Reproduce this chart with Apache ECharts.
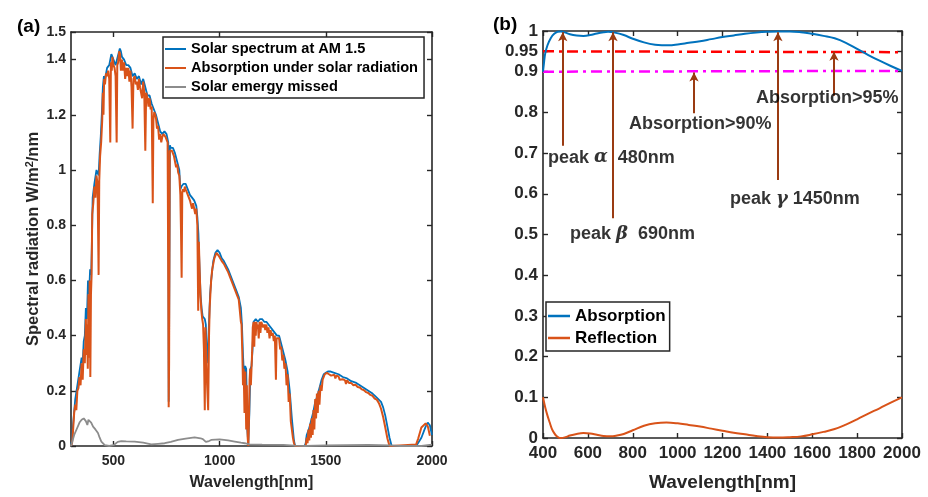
<!DOCTYPE html>
<html>
<head>
<meta charset="utf-8">
<script src="https://cdn.jsdelivr.net/npm/echarts@6/dist/echarts.min.js"></script>
<style>
html,body{margin:0;padding:0;background:#fff;}
#main{width:928px;height:497px;}
</style>
</head>
<body>
<div id="main"></div>
<script>
// ---------- Panel (a) data ----------
const solarWl = [300,305,310,320,330,340,350,355,360,365,370,375,380,385,390,395,398,402,410,420,430,435,440,445,450,455,460,470,480,490,500,510,520,530,535,540,550,560,570,580,590,600,610,620,630,640,650,660,670,680,690,700,710,720,730,740,750,758,760,762,766,770,780,790,800,810,815,820,830,840,850,860,870,880,890,895,900,905,910,915,920,930,935,940,945,950,955,960,970,980,990,1000,1010,1020,1040,1060,1080,1090,1100,1105,1110,1115,1120,1125,1130,1135,1140,1145,1150,1155,1160,1170,1180,1190,1200,1210,1220,1230,1240,1250,1260,1270,1280,1290,1300,1310,1320,1330,1340,1350,1355,1400,1405,1410,1420,1430,1440,1450,1460,1470,1480,1490,1500,1510,1520,1540,1560,1580,1600,1620,1640,1660,1680,1700,1720,1740,1760,1770,1780,1790,1800,1810,1920,1930,1950,1970,1980,1990,2000];
const solarVal = [0.0,0.02,0.08,0.17,0.22,0.27,0.32,0.30,0.38,0.40,0.50,0.46,0.60,0.55,0.64,0.62,0.72,0.90,0.95,1.00,0.98,1.06,1.12,1.20,1.30,1.34,1.33,1.37,1.38,1.42,1.40,1.38,1.41,1.44,1.43,1.41,1.40,1.38,1.38,1.37,1.34,1.35,1.33,1.34,1.31,1.33,1.30,1.27,1.27,1.24,1.22,1.20,1.17,1.14,1.13,1.14,1.13,1.10,0.16,0.40,1.09,1.08,1.08,1.06,1.03,1.00,0.93,0.94,0.95,0.95,0.93,0.91,0.90,0.89,0.87,0.83,0.77,0.65,0.55,0.50,0.47,0.46,0.44,0.30,0.35,0.45,0.55,0.60,0.67,0.70,0.71,0.70,0.68,0.67,0.64,0.60,0.56,0.54,0.50,0.44,0.33,0.25,0.29,0.28,0.06,0.01,0.12,0.28,0.29,0.35,0.45,0.46,0.45,0.46,0.46,0.45,0.45,0.44,0.43,0.42,0.41,0.40,0.40,0.37,0.34,0.31,0.27,0.20,0.10,0.02,0.0,0.0,0.01,0.04,0.06,0.09,0.12,0.16,0.18,0.21,0.24,0.26,0.265,0.27,0.27,0.265,0.26,0.25,0.245,0.235,0.23,0.22,0.21,0.20,0.19,0.175,0.16,0.14,0.11,0.07,0.03,0.0,0.0,0.005,0.03,0.07,0.085,0.075,0.04];

const absorbedWl = [300,305,310,315,320,325,330,335,340,345,350,355,360,365,370,373,376,379,382,385,388,391,394,397,400,405,410,415,420,425,430,433,437,442,447,450,453,456,460,465,470,475,480,485,488,492,495,500,505,510,515,518,522,527,531,535,540,545,550,555,560,565,570,575,580,585,590,594,600,605,610,615,620,625,630,635,640,645,650,654,660,665,670,675,680,685,688,692,700,705,710,715,720,725,730,735,740,745,750,755,758,760,762,765,770,775,780,785,790,795,800,805,810,815,818,821,824,828,832,836,840,845,850,855,860,865,870,875,880,885,890,895,899,902,906,910,914,918,922,926,930,933,937,941,946,950,953,957,960,965,970,975,980,985,990,995,1000,1010,1020,1030,1040,1050,1060,1070,1080,1090,1095,1100,1103,1107,1110,1113,1117,1121,1125,1128,1132,1135,1138,1141,1144,1147,1150,1153,1156,1160,1163,1166,1170,1173,1177,1180,1184,1188,1192,1196,1200,1205,1210,1215,1220,1225,1230,1235,1240,1245,1250,1255,1260,1265,1268,1275,1280,1285,1290,1295,1300,1305,1310,1315,1320,1325,1330,1335,1340,1345,1350,1355,1405,1410,1414,1418,1422,1426,1430,1434,1438,1442,1446,1450,1454,1458,1462,1466,1470,1475,1480,1485,1490,1495,1500,1505,1510,1515,1520,1525,1530,1540,1545,1550,1560,1565,1570,1580,1590,1595,1600,1610,1620,1630,1640,1650,1660,1670,1680,1690,1700,1710,1720,1730,1740,1750,1760,1770,1780,1790,1800,1810,1925,1935,1950,1970,1980,1990,2000];
const absorbedVal = [0.0,0.01,0.06,0.12,0.15,0.13,0.20,0.21,0.25,0.22,0.30,0.24,0.35,0.30,0.46,0.33,0.44,0.28,0.55,0.32,0.60,0.25,0.55,0.62,0.84,0.88,0.94,0.90,0.98,0.95,0.62,0.96,1.05,1.10,1.18,1.28,1.20,1.33,1.31,1.35,1.34,1.36,1.33,1.10,1.39,1.36,1.41,1.38,1.37,1.34,1.10,1.38,1.39,1.43,1.42,1.36,1.40,1.36,1.39,1.33,1.37,1.34,1.37,1.32,1.36,1.30,1.15,1.33,1.34,1.31,1.32,1.29,1.33,1.30,1.30,1.26,1.32,1.28,1.07,1.28,1.26,1.23,1.26,1.22,1.23,0.88,1.18,1.21,1.19,1.15,1.16,1.11,1.13,1.10,1.12,1.13,1.13,1.12,1.12,1.10,0.60,0.14,0.30,1.07,1.07,1.07,1.07,1.05,1.05,1.01,1.02,0.99,0.98,0.91,0.78,0.61,0.92,0.93,0.92,0.94,0.93,0.93,0.91,0.91,0.89,0.89,0.86,0.88,0.88,0.84,0.86,0.80,0.49,0.74,0.63,0.54,0.49,0.46,0.44,0.35,0.13,0.43,0.43,0.22,0.13,0.40,0.50,0.56,0.60,0.64,0.66,0.68,0.69,0.70,0.70,0.69,0.69,0.67,0.66,0.645,0.63,0.61,0.59,0.57,0.55,0.53,0.49,0.45,0.44,0.33,0.22,0.28,0.12,0.27,0.06,0.22,0.03,0.0,0.09,0.24,0.28,0.22,0.28,0.34,0.43,0.45,0.36,0.45,0.40,0.45,0.43,0.44,0.39,0.45,0.41,0.45,0.45,0.43,0.44,0.42,0.44,0.41,0.43,0.39,0.42,0.40,0.41,0.38,0.40,0.24,0.39,0.39,0.39,0.35,0.36,0.31,0.33,0.28,0.30,0.22,0.26,0.16,0.19,0.09,0.09,0.03,0.01,0.0,0.0,0.03,0.01,0.06,0.02,0.08,0.03,0.10,0.04,0.13,0.06,0.17,0.10,0.19,0.12,0.20,0.15,0.22,0.20,0.24,0.25,0.26,0.26,0.265,0.265,0.26,0.265,0.255,0.26,0.258,0.245,0.255,0.252,0.24,0.245,0.242,0.238,0.225,0.238,0.228,0.228,0.22,0.222,0.214,0.212,0.205,0.202,0.195,0.192,0.185,0.182,0.172,0.168,0.155,0.135,0.105,0.067,0.027,0.0,0.0,0.005,0.027,0.067,0.082,0.072,0.037];

const missedWl = [300,315,325,340,350,360,364,370,377,382,388,395,404,415,427,435,443,459,480,500,506,520,537,560,600,640,678,710,741,770,804,840,882,910,921,935,942,950,960,1000,1040,1071,1100,1118,1140,1200,1300,1350,1400,1500,1600,1700,1800,1850,1950,2000];
const missedVal = [0,0.04,0.058,0.085,0.095,0.10,0.105,0.09,0.076,0.095,0.097,0.085,0.07,0.06,0.047,0.03,0.016,0.003,0.0,0.003,0.01,0.015,0.018,0.017,0.016,0.012,0.006,0.008,0.01,0.015,0.022,0.027,0.031,0.028,0.025,0.015,0.01,0.018,0.022,0.024,0.02,0.016,0.012,0.01,0.006,0.005,0.004,0.001,0,0.002,0.003,0.004,0.002,0,0,0.005];

const leftXTicks = [500,1000,1500,2000];
const leftYTicks = [0,0.2,0.4,0.6,0.8,1,1.2,1.4,1.5];

// ---------- Panel (b) data ----------
const absWl = [400,405,410,420,435,450,465,480,500,520,550,580,610,640,670,690,720,760,800,850,900,930,960,1000,1050,1100,1150,1200,1250,1300,1350,1400,1450,1500,1550,1600,1650,1700,1750,1800,1850,1900,1950,2000];
const absVal = [0.9,0.925,0.945,0.965,0.983,0.993,0.998,0.999,0.996,0.992,0.989,0.988,0.99,0.994,0.997,0.998,0.996,0.99,0.981,0.972,0.966,0.965,0.965,0.967,0.971,0.975,0.98,0.985,0.989,0.993,0.996,0.998,0.999,0.999,0.997,0.993,0.988,0.982,0.971,0.956,0.941,0.927,0.914,0.902];
const reflWl = [400,410,420,430,440,450,460,470,480,500,520,550,580,610,640,670,700,730,760,800,850,900,950,1000,1050,1100,1150,1200,1250,1300,1350,1400,1450,1500,1550,1600,1650,1700,1750,1800,1850,1900,1950,2000];
const reflVal = [0.1,0.075,0.055,0.038,0.022,0.012,0.005,0.001,0.0,0.002,0.006,0.01,0.012,0.011,0.008,0.005,0.004,0.006,0.01,0.019,0.03,0.036,0.038,0.036,0.032,0.028,0.023,0.018,0.013,0.009,0.005,0.002,0.001,0.002,0.004,0.009,0.015,0.022,0.033,0.046,0.06,0.073,0.087,0.1];
const line95 = [[400,0.95],[2000,0.948]];
const line90 = [[400,0.9],[2000,0.902]];
const rightYTicks = [0,0.1,0.2,0.3,0.4,0.5,0.6,0.7,0.8,0.9,0.95,1];

const zip = (a,b) => a.map((w,i) => [w, b[i]]);

const FONT = "'Liberation Sans', Arial, sans-serif";
const AX = '#262626';
const BLUE = '#0072BD', ORANGE = '#D95319', GRAY = '#8c8c8c', BROWN = '#9a3b12';
const plain = v => String(v);

function boxAxis(extra){
  return Object.assign({
    type:'value',
    axisLine:{show:true,onZero:false,lineStyle:{color:AX,width:1.6}},
    splitLine:{show:false},
    axisTick:{show:true,inside:true,length:5,lineStyle:{color:AX,width:1.4}},
  }, extra);
}

const chart = echarts.init(document.getElementById('main'), null, {renderer:'canvas'});

const leftLbl = {show:true,color:AX,fontWeight:'bold',fontSize:14,fontFamily:FONT,formatter:plain};
const rightLbl = {show:true,color:AX,fontWeight:'bold',fontSize:17,fontFamily:FONT,formatter:plain};

const greek = {g:{fontFamily:"'DejaVu Serif', serif",fontStyle:'italic',fontSize:18,color:'#000'}};
function annot(x,y,text){
  return {value:[x,y],label:{show:true,position:'right',distance:0,formatter:text,rich:greek,
    color:'#000',fontWeight:'bold',fontSize:18,fontFamily:FONT}};
}

const option = {
  animation:false,
  backgroundColor:'#fff',
  textStyle:{fontFamily:FONT},
  title:[
    {text:'(a)',left:12,top:12,textStyle:{fontSize:19,fontWeight:'bold',color:'#000',fontFamily:FONT}},
    {text:'(b)',left:488,top:10,textStyle:{fontSize:19,fontWeight:'bold',color:'#000',fontFamily:FONT}}
  ],
  grid:[
    {left:71,top:32,width:361,height:414},
    {left:543,top:31,width:359,height:415}
  ],
  xAxis:[
    boxAxis({gridIndex:0,position:'bottom',min:300,max:2000,
      axisLabel:Object.assign({},leftLbl,{customValues:leftXTicks,margin:8}),
      axisTick:{show:true,inside:true,length:5,customValues:leftXTicks,lineStyle:{color:AX,width:1.4}},
      name:'Wavelength[nm]',nameLocation:'middle',nameGap:29,
      nameTextStyle:{fontSize:16,fontWeight:'bold',color:AX,fontFamily:FONT}}),
    boxAxis({gridIndex:0,position:'top',min:300,max:2000,
      axisLabel:{show:false},
      axisTick:{show:true,inside:true,length:5,customValues:leftXTicks,lineStyle:{color:AX,width:1.4}}}),
    boxAxis({gridIndex:1,position:'bottom',min:400,max:2000,interval:200,
      axisLabel:Object.assign({},rightLbl,{margin:7}),
      name:'Wavelength[nm]',nameLocation:'middle',nameGap:35,
      nameTextStyle:{fontSize:19,fontWeight:'bold',color:AX,fontFamily:FONT}}),
    boxAxis({gridIndex:1,position:'top',min:400,max:2000,interval:200,axisLabel:{show:false}})
  ],
  yAxis:[
    boxAxis({gridIndex:0,position:'left',min:0,max:1.5,
      axisLabel:Object.assign({},leftLbl,{customValues:leftYTicks,margin:5}),
      axisTick:{show:true,inside:true,length:5,customValues:leftYTicks,lineStyle:{color:AX,width:1.4}},
      name:'Spectral radiation W/m{sup|2}/nm',nameLocation:'middle',nameGap:27,
      nameTextStyle:{fontSize:16.5,fontWeight:'bold',color:AX,fontFamily:FONT,lineHeight:18,
        rich:{sup:{fontSize:11,fontWeight:'bold',color:AX,fontFamily:FONT,verticalAlign:'top',lineHeight:18,padding:[0,0,6,0]}}}}),
    boxAxis({gridIndex:0,position:'right',min:0,max:1.5,
      axisLabel:{show:false},
      axisTick:{show:true,inside:true,length:5,customValues:leftYTicks,lineStyle:{color:AX,width:1.4}}}),
    boxAxis({gridIndex:1,position:'left',min:0,max:1,
      axisLabel:Object.assign({},rightLbl,{customValues:rightYTicks,margin:5}),
      axisTick:{show:true,inside:true,length:5,customValues:rightYTicks,lineStyle:{color:AX,width:1.4}}}),
    boxAxis({gridIndex:1,position:'right',min:0,max:1,
      axisLabel:{show:false},
      axisTick:{show:true,inside:true,length:5,customValues:rightYTicks,lineStyle:{color:AX,width:1.4}}})
  ],
  legend:[
    {data:['Solar spectrum at AM 1.5','Absorption under solar radiation','Solar emergy missed'],
     orient:'vertical',left:163,top:37,padding:[4,6,3,2],itemGap:3,itemWidth:21,itemHeight:2,icon:'rect',
     borderColor:AX,borderWidth:1.5,backgroundColor:'#fff',
     textStyle:{fontSize:14.6,fontWeight:'bold',color:'#000',fontFamily:FONT,lineHeight:16}},
    {data:['Absorption','Reflection'],
     orient:'vertical',left:546,top:302,padding:[5,4,4,2],itemGap:4,itemWidth:22,itemHeight:2.5,icon:'rect',
     borderColor:AX,borderWidth:1.5,backgroundColor:'#fff',
     textStyle:{fontSize:17,fontWeight:'bold',color:'#000',fontFamily:FONT,lineHeight:18}}
  ],
  series:[
    {name:'Solar spectrum at AM 1.5',type:'line',xAxisIndex:0,yAxisIndex:0,data:zip(solarWl,solarVal),
     symbol:'none',itemStyle:{color:BLUE},lineStyle:{color:BLUE,width:1.8},z:2},
    {name:'Absorption under solar radiation',type:'line',xAxisIndex:0,yAxisIndex:0,data:zip(absorbedWl,absorbedVal),
     symbol:'none',itemStyle:{color:ORANGE},lineStyle:{color:ORANGE,width:2},z:3},
    {name:'Solar emergy missed',type:'line',xAxisIndex:0,yAxisIndex:0,data:zip(missedWl,missedVal),
     symbol:'none',itemStyle:{color:GRAY},lineStyle:{color:GRAY,width:1.8},z:4},

    {name:'ref95',type:'line',xAxisIndex:2,yAxisIndex:2,data:line95,symbol:'none',
     lineStyle:{color:'#ff0000',width:2.5,type:[11,5,3,5]},z:2},
    {name:'ref90',type:'line',xAxisIndex:2,yAxisIndex:2,data:line90,symbol:'none',
     lineStyle:{color:'#ff00ff',width:2.5,type:[11,5,3,5]},z:2},
    {name:'Absorption',type:'line',xAxisIndex:2,yAxisIndex:2,data:zip(absWl,absVal),smooth:0.4,
     symbol:'none',itemStyle:{color:BLUE},lineStyle:{color:BLUE,width:2},z:3,
     markLine:{silent:true,symbol:['none','arrow'],symbolSize:[7,9],
       lineStyle:{color:BROWN,width:2,type:'solid'},label:{show:false},
       data:[
         [{coord:[488,0.718]},{coord:[488,0.997]}],
         [{coord:[712,0.54]},{coord:[712,0.997]}],
         [{coord:[1447,0.634]},{coord:[1447,0.997]}],
         [{coord:[1073,0.798]},{coord:[1073,0.898]}],
         [{coord:[1697,0.841]},{coord:[1697,0.949]}]
       ]}},
    {name:'Reflection',type:'line',xAxisIndex:2,yAxisIndex:2,data:zip(reflWl,reflVal),smooth:0.4,
     symbol:'none',itemStyle:{color:ORANGE},lineStyle:{color:ORANGE,width:2},z:3},
    {name:'annotations',type:'scatter',xAxisIndex:2,yAxisIndex:2,symbolSize:0,silent:true,z:5,
     label:{show:true,fontSize:18,fontWeight:'bold',color:'#000',fontFamily:FONT},
     data:[
       annot(422,0.689,'peak {g|α}  480nm'),
       annot(520,0.501,'peak {g|β}  690nm'),
       annot(1233,0.586,'peak {g|γ} 1450nm'),
       annot(783,0.771,'Absorption>90%'),
       annot(1349,0.836,'Absorption>95%')
     ]}
  ]
};
chart.setOption(option);
</script>
</body>
</html>
